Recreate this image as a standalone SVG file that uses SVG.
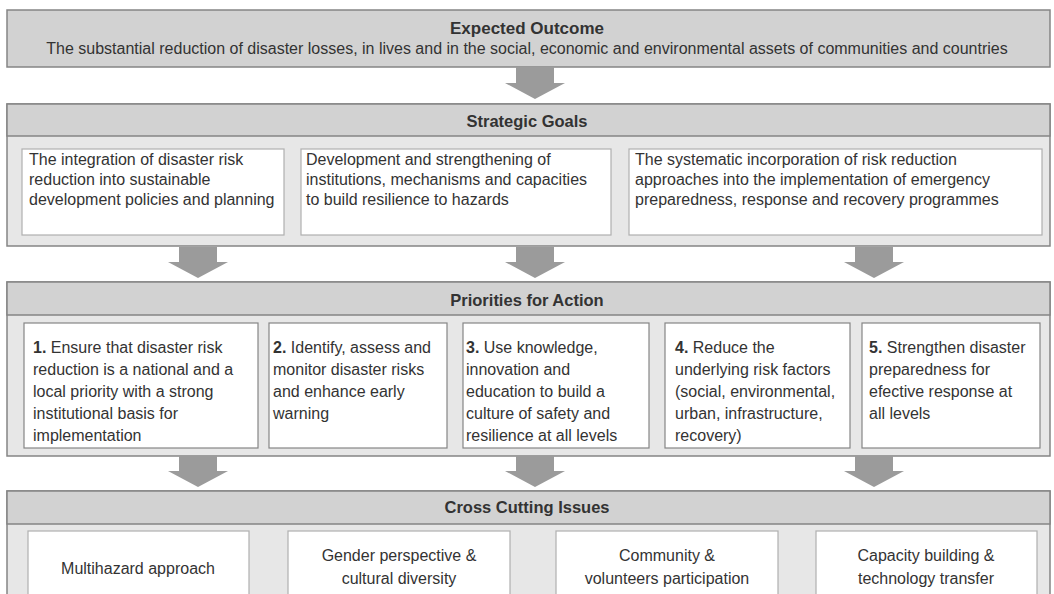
<svg xmlns="http://www.w3.org/2000/svg" width="1054" height="594" viewBox="0 0 1054 594">
<style>
text{font-family:"Liberation Sans",Arial,sans-serif;fill:#333}
.h{font-weight:bold;font-size:16.5px;text-anchor:middle}
.t{font-size:16px}
.c{font-size:16px;text-anchor:middle}
.n{font-weight:bold}
.panel{fill:#e7e7e7;stroke:#858585;stroke-width:1.5}
.band{fill:#d2d2d2;stroke:#858585;stroke-width:1.5}
.gbox{fill:#fff;stroke:#b0b0b0;stroke-width:1.2}
.pbox{fill:#fff;stroke:#858585;stroke-width:1.2}
.arr{fill:#9b9b9b}
</style>
<rect width="1054" height="594" fill="#fff"/>
<g id="expected-outcome">
<rect x="7" y="10" width="1043" height="57" class="band"/>
<text x="527" y="34" class="h" style="font-size:17px">Expected Outcome</text>
<text x="527" y="54" class="t" text-anchor="middle">The substantial reduction of disaster losses, in lives and in the social, economic and environmental assets of communities and countries</text>
</g>
<g id="strategic-goals">
<rect x="7" y="104" width="1043" height="142" class="panel"/>
<rect x="7" y="104" width="1043" height="32" class="band"/>
<text x="527" y="127" class="h">Strategic Goals</text>
<g id="goal-1"><rect x="22" y="149" width="262" height="86" class="gbox"/>
<text class="t" x="29"><tspan x="29" y="165">The integration of disaster risk</tspan><tspan x="29" y="185">reduction into sustainable</tspan><tspan x="29" y="205">development policies and planning</tspan></text></g>
<g id="goal-2"><rect x="301" y="149" width="310" height="86" class="gbox"/>
<text class="t"><tspan x="306" y="165">Development and strengthening of</tspan><tspan x="306" y="185">institutions, mechanisms and capacities</tspan><tspan x="306" y="205">to build resilience to hazards</tspan></text></g>
<g id="goal-3"><rect x="629" y="149" width="413" height="86" class="gbox"/>
<text class="t"><tspan x="635" y="165">The systematic incorporation of risk reduction</tspan><tspan x="635" y="185">approaches into the implementation of emergency</tspan><tspan x="635" y="205">preparedness, response and recovery programmes</tspan></text></g>
</g>
<g id="priorities">
<rect x="7" y="282" width="1043" height="174" class="panel"/>
<rect x="7" y="282" width="1043" height="33" class="band"/>
<text x="527" y="306" class="h">Priorities for Action</text>
<g id="priority-1"><rect x="24" y="323" width="234" height="125" class="pbox"/>
<text class="t"><tspan x="33" y="353"><tspan class="n">1.</tspan> Ensure that disaster risk</tspan><tspan x="33" y="375">reduction is a national and a</tspan><tspan x="33" y="397">local priority with a strong</tspan><tspan x="33" y="419">institutional basis for</tspan><tspan x="33" y="441">implementation</tspan></text></g>
<g id="priority-2"><rect x="269" y="323" width="178" height="125" class="pbox"/>
<text class="t"><tspan x="273" y="353"><tspan class="n">2.</tspan> Identify, assess and</tspan><tspan x="273" y="375">monitor disaster risks</tspan><tspan x="273" y="397">and enhance early</tspan><tspan x="273" y="419">warning</tspan></text></g>
<g id="priority-3"><rect x="463" y="323" width="186" height="125" class="pbox"/>
<text class="t"><tspan x="466" y="353"><tspan class="n">3.</tspan> Use knowledge,</tspan><tspan x="466" y="375">innovation and</tspan><tspan x="466" y="397">education to build a</tspan><tspan x="466" y="419">culture of safety and</tspan><tspan x="466" y="441">resilience at all levels</tspan></text></g>
<g id="priority-4"><rect x="665" y="323" width="185" height="125" class="pbox"/>
<text class="t"><tspan x="675" y="353"><tspan class="n">4.</tspan> Reduce the</tspan><tspan x="675" y="375">underlying risk factors</tspan><tspan x="675" y="397">(social, environmental,</tspan><tspan x="675" y="419">urban, infrastructure,</tspan><tspan x="675" y="441">recovery)</tspan></text></g>
<g id="priority-5"><rect x="862" y="323" width="178" height="125" class="pbox"/>
<text class="t"><tspan x="869" y="353"><tspan class="n">5.</tspan> Strengthen disaster</tspan><tspan x="869" y="375">preparedness for</tspan><tspan x="869" y="397">efective response at</tspan><tspan x="869" y="419">all levels</tspan></text></g>
</g>
<g id="cross-cutting">
<rect x="7" y="491" width="1043" height="110" class="panel"/>
<rect x="7" y="491" width="1043" height="33" class="band"/>
<text x="527" y="513" class="h">Cross Cutting Issues</text>
<g id="cc-1"><rect x="28" y="531" width="221" height="70" class="gbox"/>
<text class="c" x="138" y="574">Multihazard approach</text></g>
<g id="cc-2"><rect x="288" y="531" width="222" height="70" class="gbox"/>
<text class="c"><tspan x="399" y="561">Gender perspective &amp;</tspan><tspan x="399" y="584">cultural diversity</tspan></text></g>
<g id="cc-3"><rect x="556" y="531" width="222" height="70" class="gbox"/>
<text class="c"><tspan x="667" y="561">Community &amp;</tspan><tspan x="667" y="584">volunteers participation</tspan></text></g>
<g id="cc-4"><rect x="816" y="531" width="221" height="70" class="gbox"/>
<text class="c"><tspan x="926" y="561">Capacity building &amp;</tspan><tspan x="926" y="584">technology transfer</tspan></text></g>
</g>
<g id="connectors">
<path class="arr" d="M516,67 H554 V83 H565 L535,99 L505,83 H516 Z"/>
<path class="arr" d="M179,247 H217 V262 H228 L198,278 L168,262 H179 Z"/>
<path class="arr" d="M516,247 H554 V262 H565 L535,278 L505,262 H516 Z"/>
<path class="arr" d="M855,247 H893 V262 H904 L874,278 L844,262 H855 Z"/>
<path class="arr" d="M179,456 H217 V471 H228 L198,487 L168,471 H179 Z"/>
<path class="arr" d="M516,456 H554 V471 H565 L535,487 L505,471 H516 Z"/>
<path class="arr" d="M855,456 H893 V471 H904 L874,487 L844,471 H855 Z"/>
</g>
</svg>
